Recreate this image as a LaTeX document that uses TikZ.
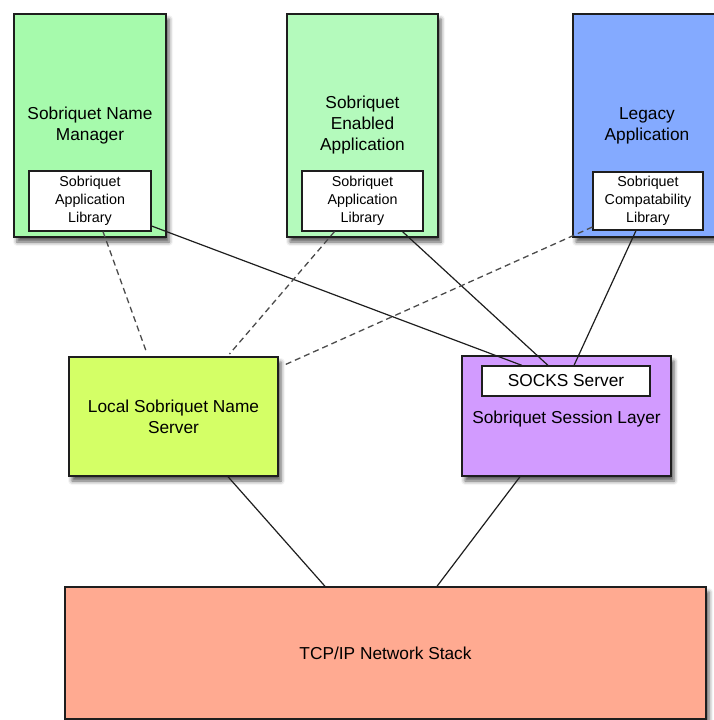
\documentclass[tikz,border=0pt]{standalone}
\usepackage{fontspec}
\setmainfont{Liberation Sans}
\usepackage{tikz}
\usetikzlibrary{positioning, shadows, shadows.blur, calc}

\definecolor{mgrgreen}{RGB}{166,250,172}
\definecolor{appgreen}{RGB}{180,250,188}
\definecolor{legacyblue}{RGB}{132,170,255}
\definecolor{nslime}{RGB}{212,255,102}
\definecolor{sesspurple}{RGB}{210,155,255}
\definecolor{tcpsalmon}{RGB}{255,170,145}
\definecolor{edgegray}{RGB}{30,30,30}

\tikzset{
    layer/.style={draw=edgegray, line width=1.4pt, align=center, inner sep=0pt,
        font=\fontsize{17.3}{21}\selectfont,
        blur shadow={shadow xshift=3pt, shadow yshift=-5pt, shadow blur radius=4pt, shadow opacity=65}},
    lib/.style={draw=edgegray, line width=1.2pt, fill=white, align=center, inner sep=0pt,
        font=\fontsize{14.3}{18}\selectfont},
    link/.style={draw=edgegray, line width=1.2pt},
    hint/.style={draw=edgegray!80, line width=1.3pt, dash pattern=on 6pt off 4pt}
}

\begin{document}
\begin{tikzpicture}[x=1pt, y=-1pt]
    \useasboundingbox (0,0) rectangle (714,720);
    \clip (0,0) rectangle (714,720);

    % top row
    \node[layer, fill=mgrgreen, minimum width=152, minimum height=223] (mgr) at (90,125.5) {Sobriquet Name\\Manager};
    \node[lib, minimum width=122, minimum height=60] (libA) at (90,201) {Sobriquet\\Application\\Library};

    \node[layer, fill=appgreen, minimum width=151, minimum height=223] (app) at (362.5,125.5) {Sobriquet\\Enabled\\Application};
    \node[lib, minimum width=121, minimum height=60] (libB) at (362.5,201) {Sobriquet\\Application\\Library};

    \node[layer, fill=legacyblue, minimum width=148, minimum height=223] (legacy) at (647,125.5) {Legacy\\Application};
    \node[lib, minimum width=110, minimum height=58] (libC) at (648,201) {Sobriquet\\Compatability\\Library};

    % middle row
    \node[layer, fill=nslime, minimum width=209, minimum height=119] (local) at (173.5,416.5) {Local Sobriquet Name\\Server};
    \node[layer, fill=sesspurple, minimum width=209, minimum height=120] (session) at (566.5,416) {\raisebox{-3pt}[\height][\depth]{Sobriquet Session Layer}};
    \node[lib, minimum width=168, minimum height=30, font=\fontsize{17.3}{21}\selectfont] (socks) at (566,381) {SOCKS Server};

    % bottom
    \node[layer, fill=tcpsalmon, minimum width=641, minimum height=132] (tcp) at (385.5,653) {TCP/IP Network Stack};

    \coordinate (nsgap) at ([xshift=5pt,yshift=-9pt]local.north east);

    % solid links
    \draw[link] ([yshift=-25pt]libA.east) -- ([xshift=-44pt]socks.north);
    \draw[link] ([xshift=40pt]libB.south) -- ([xshift=-18pt]socks.north);
    \draw[link] ([xshift=-12pt]libC.south) -- ([xshift=8pt]socks.north);
    \draw[link] ([xshift=54.5pt]local.south) -- ([xshift=-60.5pt]tcp.north);
    \draw[link] ([xshift=-46.5pt]session.south) -- ([xshift=51.5pt]tcp.north);

    % dashed links
    \draw[hint, shorten >=3pt] ([xshift=13pt]libA.south) -- ([xshift=-25.5pt]local.north);
    \draw[hint, shorten >=3pt] ([xshift=-28pt]libB.south) -- ([xshift=54pt]local.north);
    \draw[hint] ([yshift=-26pt]libC.west) -- (nsgap);
\end{tikzpicture}
\end{document}
